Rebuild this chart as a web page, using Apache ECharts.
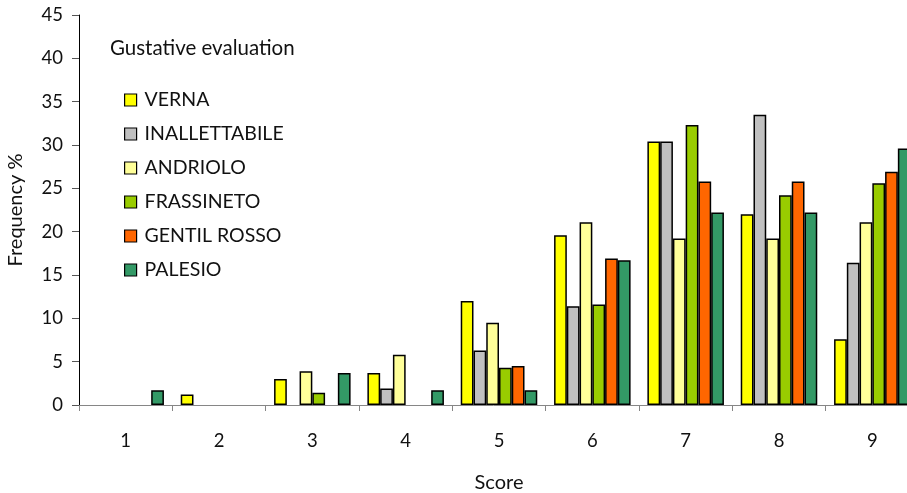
<!DOCTYPE html>
<html>
<head>
<meta charset="utf-8">
<script src="https://cdn.jsdelivr.net/npm/echarts@6/dist/echarts.min.js"></script>
<style>
html,body{margin:0;padding:0;background:#fff;}
#chart{width:907px;height:493px;}
</style>
</head>
<body>
<div id="chart"></div>
<script>
var categories = ['1','2','3','4','5','6','7','8','9'];
var seriesNames = ['VERNA','INALLETTABILE','ANDRIOLO','FRASSINETO','GENTIL ROSSO','PALESIO'];
var verna = [0, 1.2, 3.0, 3.7, 12.0, 19.6, 30.4, 22.0, 7.6];
var inallettabile = [0, 0, 0, 1.9, 6.3, 11.4, 30.4, 33.5, 16.4];
var andriolo = [0, 0, 3.9, 5.8, 9.5, 21.1, 19.2, 19.2, 21.1];
var frassineto = [0, 0, 1.4, 0, 4.3, 11.6, 32.3, 24.2, 25.6];
var gentilRosso = [0, 0, 0, 0, 4.5, 16.9, 25.8, 25.8, 26.9];
var palesio = [1.7, 0, 3.7, 1.7, 1.7, 16.7, 22.2, 22.2, 29.6];
var yTicks = [0,5,10,15,20,25,30,35,40,45];

var colors = ['#FFFF00','#C0C0C0','#FFFF99','#99CC00','#FF6600','#339966'];
var values = [verna, inallettabile, andriolo, frassineto, gentilRosso, palesio];
var FONT = 'Lato';

var chart = echarts.init(document.getElementById('chart'), null, {renderer:'canvas'});
var series = seriesNames.map(function(n, i){
  return {
    name: n,
    type: 'bar',
    barGap: '0%',
    barCategoryGap: '18%',
    itemStyle: {color: colors[i], borderColor: '#000', borderWidth: 1.5},
    emphasis: {disabled: true},
    data: values[i].map(function(v){ return v === 0 ? '-' : v; })
  };
});
chart.setOption({
  animation: false,
  backgroundColor: '#fff',
  color: colors,
  title: {
    text: 'Gustative evaluation',
    left: 105, top: 33,
    textStyle: {fontFamily: FONT, fontSize: 20.5, fontWeight: 'normal', color: '#111'}
  },
  legend: {
    orient: 'vertical',
    left: 119, top: 85,
    itemWidth: 12, itemHeight: 12,
    itemGap: 14,
    icon: 'rect',
    data: seriesNames,
    textStyle: {fontFamily: FONT, fontSize: 19.5, color: '#111', lineHeight: 20, padding: [0,0,0,3]},
    itemStyle: {borderColor: '#000', borderWidth: 1.2}
  },
  grid: {left: 79, right: -12, top: 15, bottom: 88, containLabel: false, outerBoundsMode: 'none'},
  xAxis: {
    type: 'category',
    data: categories,
    name: 'Score',
    nameLocation: 'middle',
    nameGap: 68,
    nameTextStyle: {fontFamily: FONT, fontSize: 20, color: '#111'},
    axisLine: {lineStyle: {color: '#868686', width: 1}},
    axisTick: {show: true, length: 6, lineStyle: {color: '#868686'}},
    axisLabel: {fontFamily: FONT, fontSize: 18.5, color: '#111', margin: 27}
  },
  yAxis: {
    type: 'value',
    min: 0, max: 45, interval: 5,
    name: 'Frequency %',
    nameLocation: 'middle',
    nameGap: 53,
    nameRotate: 90,
    nameTextStyle: {fontFamily: FONT, fontSize: 20, color: '#111'},
    splitLine: {show: false},
    axisLine: {show: true, lineStyle: {color: '#000', width: 1}},
    axisTick: {show: true, length: 7, lineStyle: {color: '#555'}},
    axisLabel: {fontFamily: FONT, fontSize: 18.5, color: '#111', margin: 16,
      formatter: function(v){ return yTicks.indexOf(v) >= 0 ? String(v) : ''; }}
  },
  series: series
});
</script>
</body>
</html>
